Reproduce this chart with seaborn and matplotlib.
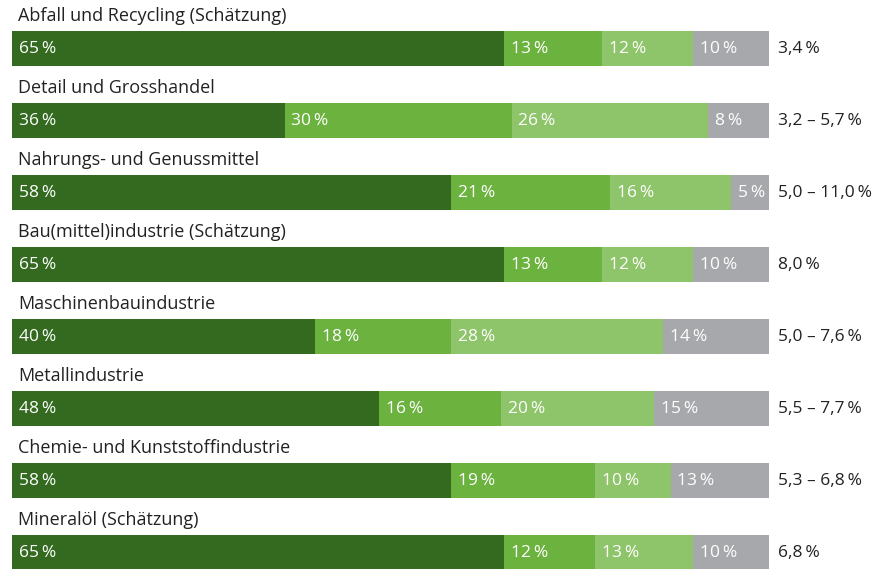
import matplotlib
matplotlib.use("Agg")
import matplotlib.pyplot as plt
import seaborn as sns
import pandas as pd
import numpy as np

categories = [
    "Abfall und Recycling (Schätzung)",
    "Detail und Grosshandel",
    "Nahrungs- und Genussmittel",
    "Bau(mittel)industrie (Schätzung)",
    "Maschinenbauindustrie",
    "Metallindustrie",
    "Chemie- und Kunststoffindustrie",
    "Mineralöl (Schätzung)",
]
seg1 = [65, 36, 58, 65, 40, 48, 58, 65]
seg2 = [13, 30, 21, 13, 18, 16, 19, 12]
seg3 = [12, 26, 16, 12, 28, 20, 10, 13]
seg4 = [10, 8, 5, 10, 14, 15, 13, 10]
right_labels = ["3,4\u2009%", "3,2 – 5,7\u2009%", "5,0 – 11,0\u2009%", "8,0\u2009%",
                "5,0 – 7,6\u2009%", "5,5 – 7,7\u2009%", "5,3 – 6,8\u2009%", "6,8\u2009%"]

colors = ["#336a1f", "#6bb23e", "#8ec46a", "#a7a8ab"]

segs = np.array([seg1, seg2, seg3, seg4], dtype=float)
totals = segs.sum(axis=0)
cum = np.cumsum(segs, axis=0) / totals * 100  # cumulative share per row

sns.set_theme(style="white")
plt.rcParams["font.family"] = ["Open Sans", "DejaVu Sans"]

fig = plt.figure(figsize=(8.95, 5.69), dpi=100)
ax = fig.add_axes([0, 0, 1, 1])

bar_h = 35 / 72
for k in range(3, -1, -1):
    df = pd.DataFrame({"cat": categories, "val": cum[k]})
    sns.barplot(data=df, x="val", y="cat", orient="h", color=colors[k],
                saturation=1, width=bar_h, ax=ax, linewidth=0)

# pixel mapping
px_per_unit = 7.57
ax.set_xlim(-12 / px_per_unit, 100 + (895 - 769) / px_per_unit)
ax.set_ylim((569 - 48) / 72, -48 / 72)
ax.axis("off")

fs = 12.5
for i, cat in enumerate(categories):
    ax.text(6 / px_per_unit, i - 32 / 72, cat,
            ha="left", va="center", fontsize=13, color="#222222")
    lefts = [0] + list(cum[:3, i])
    for k in range(4):
        ax.text(lefts[k] + 0.9, i + 0.02, f"{int(segs[k, i])}\u2009%", ha="left",
                va="center", fontsize=fs, color="white")
    ax.text(100 + 9 / px_per_unit, i + 0.02, right_labels[i], ha="left",
            va="center", fontsize=fs, color="#222222")

fig.savefig("out.png", dpi=100)
